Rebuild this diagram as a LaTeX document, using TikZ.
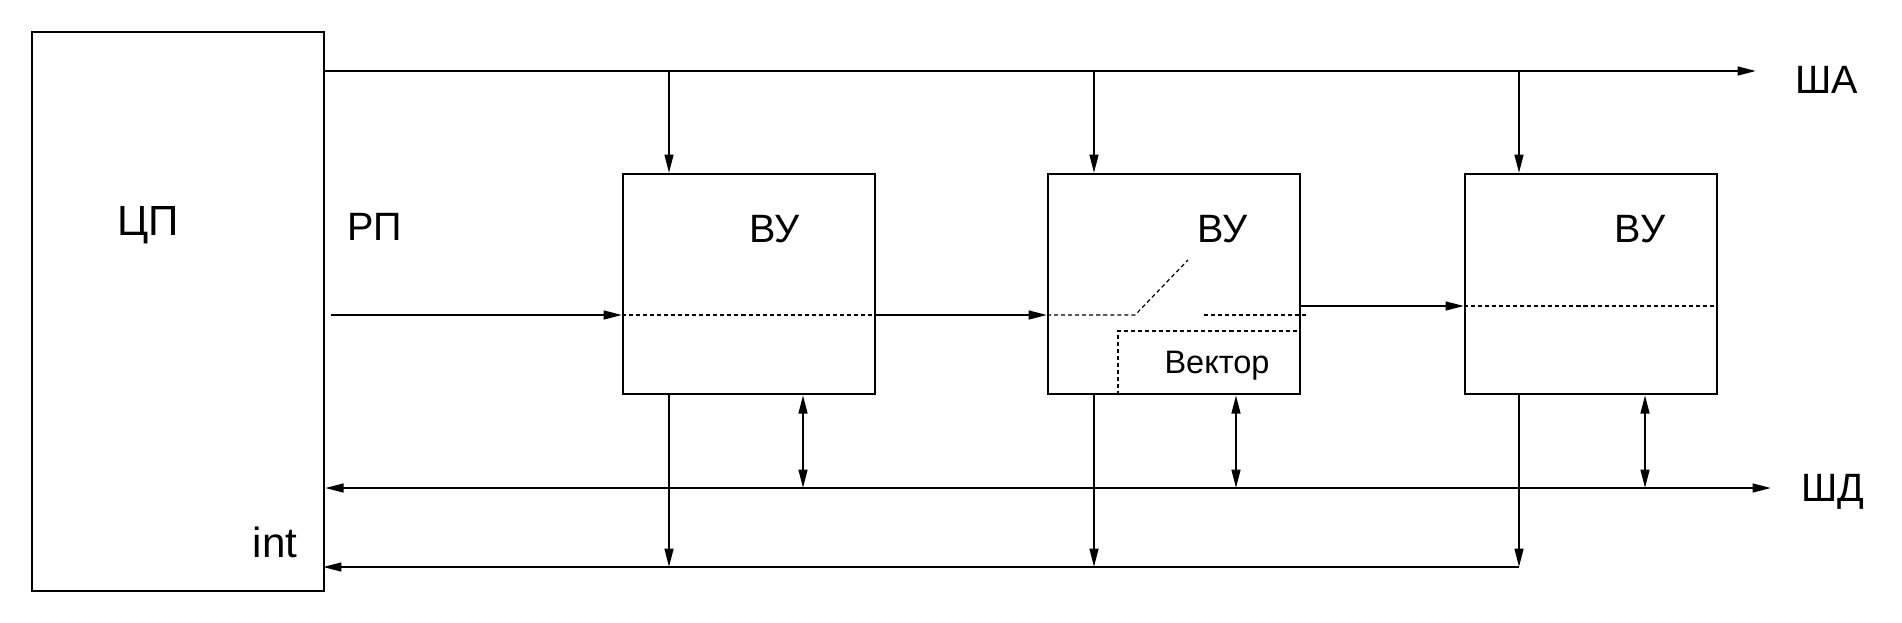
\documentclass[tikz,border=0pt]{standalone}
\usepackage{fontspec}
\setmainfont{Liberation Sans}
\usetikzlibrary{arrows.meta,calc}
\tikzset{
  blok/.style={draw,line width=1.3pt,inner sep=0pt,anchor=north west},
  lbl/.style={font=\fontsize{22.5}{26}\selectfont,inner sep=0pt,anchor=base},
  smalllbl/.style={font=\fontsize{18.5}{22}\selectfont,inner sep=0pt,anchor=base},
  dots/.style={line width=0.7pt,dash pattern=on 2.3pt off 1.7pt},
}
\begin{document}
\begin{tikzpicture}[x=0.02cm,y=-0.02cm,line width=1.2pt,>={Triangle[length=10.5pt,width=5pt]}]
\useasboundingbox (0,0) rectangle (1902,622);
% blocks
\node[blok,minimum width=5.84cm,minimum height=11.18cm] (cpu) at (31,31) {};
\node[blok,minimum width=5.04cm,minimum height=4.4cm] (vu1) at (622,173) {};
\node[blok,minimum width=5.04cm,minimum height=4.4cm] (vu2) at (1047,173) {};
\node[blok,minimum width=5.04cm,minimum height=4.4cm] (vu3) at (1464,173) {};
\node[lbl,font=\fontsize{24}{28}\selectfont] (cpuname) at (148,235) {ЦП};
\node[lbl] (rpname) at (375,240) {РП};
\node[lbl,font=\fontsize{24}{28}\selectfont] (intname) at (275,557) {int};
\node[lbl] (vu1name) at (775,242) {ВУ};
\node[lbl] (vu2name) at (1223,242) {ВУ};
\node[lbl] (vu3name) at (1640,242) {ВУ};
\node[smalllbl] (vecname) at (1217,373) {Вектор};
% buses
\coordinate (sha) at (1756,71);
\coordinate (shd) at (1771,488);
\coordinate (irq) at (323,567);
\node[lbl] (shaname) at (1827,93) {ША};
\node[lbl] (shdname) at (1833,501) {ШД};
\draw[->] (cpu.east |- sha) -- (sha);
\draw[<->] (cpu.east |- shd) -- (shd);
\foreach \n/\a/\b in {vu1/47/181,vu2/47/189,vu3/55/181}{
  \path (\n.north west) ++(\a,0) coordinate (\n-in);
  \path (\n.south west) ++(\a,0) coordinate (\n-out);
  \path (\n.south west) ++(\b,0) coordinate (\n-dat);
  \draw[->] (\n-in |- sha) -- (\n-in);
  \draw[<->] (\n-dat) -- (\n-dat |- shd);
  \draw[->] (\n-out) -- (\n-out |- irq);
}
\draw[->] (vu3-out |- irq) -- (irq);
% priority chain
\coordinate (rp) at (331,315);
\path (vu2.north east) ++(0,133) coordinate (vo);
\draw[->] (rp) -- (rp -| vu1.west);
\draw[dots] (rp -| vu1.west) -- (rp -| vu1.east);
\draw[->] (rp -| vu1.east) -- (rp -| vu2.west);
\draw[dots] (rp -| vu2.west) -- (1135,315) -- (1188,260);
\draw[dots] (1204,315) -- (1308,315);
\draw[->] (vo) -- (vo -| vu3.west);
\draw[dots] (vo -| vu3.west) -- (vo -| vu3.east);
\draw[dots] ($(vu2.south west)+(71,0)$) |- ($(vu2.north east)+(0,158)$);
\end{tikzpicture}
\end{document}
